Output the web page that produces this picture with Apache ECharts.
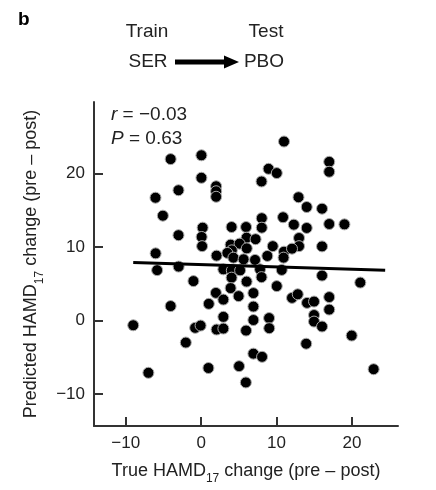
<!DOCTYPE html>
<html>
<head>
<meta charset="utf-8">
<script src="https://cdn.jsdelivr.net/npm/echarts@6/dist/echarts.min.js"></script>
<style>
html,body{margin:0;padding:0;background:#fff;}
#chart{width:436px;height:490px;}
</style>
</head>
<body>
<div id="chart"></div>
<script>
// True HAMD17 change (pre - post)
const trueChange = [
  -4.04, 0.04, 0.04, -6.05, -3.00, -5.07, -3.00, 0.20, 0.07, 0.13,
  -6.03, -5.83, -2.98, -1.02, -4.04, -9.00, -0.79, -0.07, -2.03, -6.99,
  0.97, 1.02, 1.99, 1.99, 1.99, 10.99, 8.94, 10.03, 8.01, 16.98,
  16.98, 12.91, 14.00, 16.03, 10.86, 8.04, 8.04, 12.29, 14.00, 16.98,
  19.00, 4.04, 5.96, 6.03, 7.22, 12.98, 12.98, 16.03, 3.91, 5.10,
  6.05, 4.07, 9.50, 10.99, 12.05, 2.05, 3.48, 4.28, 5.63, 7.15,
  8.78, 10.93, 2.95, 4.07, 5.17, 7.81, 8.01, 10.69, 4.04, 3.91,
  6.03, 10.03, 16.03, 21.10, 1.96, 2.95, 4.97, 6.93, 6.93, 12.05,
  12.81, 14.04, 14.97, 16.98, 16.98, 2.95, 6.93, 9.01, 14.97, 14.97,
  16.03, 2.05, 2.95, 5.96, 9.03, 19.96, 13.93, 6.93, 8.08, 5.03,
  22.87, 5.93
];
// Predicted HAMD17 change (pre - post)
const predictedChange = [
  21.94, 22.46, 19.40, 16.69, 17.71, 14.25, 11.60, 12.62, 11.36, 10.11,
  9.13, 6.85, 7.33, 5.36, 1.97, -0.64, -0.99, -0.68, -2.99, -7.10,
  -6.45, 2.27, 18.25, 17.57, 16.82, 24.33, 20.62, 20.04, 18.90, 21.57,
  20.22, 16.76, 15.43, 15.20, 14.04, 13.91, 12.62, 13.03, 12.58, 13.12,
  13.07, 12.71, 12.71, 11.26, 11.06, 11.22, 10.11, 10.08, 10.31, 10.45,
  9.81, 9.54, 10.11, 9.36, 9.77, 8.82, 9.19, 8.55, 8.32, 8.24,
  8.78, 8.55, 6.96, 6.82, 6.82, 6.96, 5.90, 6.88, 5.83, 4.41,
  5.29, 4.68, 6.11, 5.16, 3.76, 2.85, 3.32, 3.73, 1.90, 3.08,
  3.57, 2.40, 2.58, 3.19, 1.49, 0.50, 0.07, 0.34, 0.75, -0.14,
  -0.81, -1.22, -1.09, -1.36, -1.04, -2.04, -3.15, -4.50, -4.93, -6.20,
  -6.61, -8.41
];
// Fit line endpoints
const fitX = [-9.0, 24.4];
const fitY = [7.9, 6.85];
// Tick values
const xTicks = [-10, 0, 10, 20];
const yTicks = [-10, 0, 10, 20];
const statR = '−0.03';
const statP = '0.63';

const FONT = '"Liberation Sans", Arial, sans-serif';
const points = trueChange.map((x, i) => [x, predictedChange[i]]);
const fitLine = fitX.map((x, i) => [x, fitY[i]]);
const fmt = v => String(v).replace('-', '−');

const nameRich = {
  t: {fontFamily: FONT, fontSize: 18, color: '#222', lineHeight: 22, verticalAlign: 'bottom'},
  s: {fontFamily: FONT, fontSize: 12, color: '#222', lineHeight: 22, verticalAlign: 'bottom', padding: [0,0,-5,0]}
};

const chart = echarts.init(document.getElementById('chart'), null, {renderer: 'canvas'});
chart.setOption({
  animation: false,
  backgroundColor: '#fff',
  grid: {left: 94, right: 38, top: 102, bottom: 63},
  xAxis: {
    type: 'value', min: -14.2, max: 26.1,
    name: '{t|True HAMD}{s|17}{t| change (pre – post)}',
    nameLocation: 'middle', nameGap: 32,
    nameTextStyle: {rich: nameRich},
    splitLine: {show: false},
    axisLine: {show: true, onZero: false, lineStyle: {color: '#333', width: 2}},
    axisTick: {show: true, inside: true, length: 9, customValues: xTicks, lineStyle: {color: '#333', width: 2}},
    axisLabel: {customValues: xTicks, formatter: fmt, fontFamily: FONT, fontSize: 17, color: '#222', margin: 9}
  },
  yAxis: {
    type: 'value', min: -14.33, max: 29.7,
    name: '{t|Predicted HAMD}{s|17}{t| change (pre – post)}',
    nameLocation: 'middle', nameGap: 38, nameRotate: 90,
    nameTextStyle: {rich: nameRich},
    splitLine: {show: false},
    axisLine: {show: true, onZero: false, lineStyle: {color: '#333', width: 2}},
    axisTick: {show: true, inside: true, length: 9, customValues: yTicks, lineStyle: {color: '#333', width: 2}},
    axisLabel: {customValues: yTicks, formatter: fmt, fontFamily: FONT, fontSize: 17, color: '#222', margin: 9}
  },
  series: [
    {
      type: 'scatter', data: points, symbolSize: 11,
      itemStyle: {color: '#000', borderColor: '#aaa', borderWidth: 1, opacity: 1},
      z: 2
    },
    {
      type: 'line', data: fitLine, symbol: 'none',
      lineStyle: {color: '#000', width: 3}, z: 3
    }
  ],
  graphic: [
    {type: 'text', x: 18, y: 20, style: {text: 'b', font: 'bold 19px ' + FONT, fill: '#000', verticalAlign: 'middle'}},
    {type: 'text', x: 147, y: 32, style: {text: 'Train', font: '19px ' + FONT, fill: '#222', align: 'center', verticalAlign: 'middle'}},
    {type: 'text', x: 266, y: 32, style: {text: 'Test', font: '19px ' + FONT, fill: '#222', align: 'center', verticalAlign: 'middle'}},
    {type: 'text', x: 148, y: 62, style: {text: 'SER', font: '19px ' + FONT, fill: '#222', align: 'center', verticalAlign: 'middle'}},
    {type: 'text', x: 264, y: 62, style: {text: 'PBO', font: '19px ' + FONT, fill: '#222', align: 'center', verticalAlign: 'middle'}},
    {type: 'line', shape: {x1: 175, y1: 62, x2: 228, y2: 62}, style: {stroke: '#000', lineWidth: 5}},
    {type: 'polygon', shape: {points: [[224, 55.5], [239, 62], [224, 68.5]]}, style: {fill: '#000'}},
    {type: 'text', x: 111, y: 115, style: {
      text: '{i|r} = ' + statR,
      font: '19px ' + FONT, fill: '#222', verticalAlign: 'middle',
      rich: {i: {fontStyle: 'italic', fontFamily: FONT, fontSize: 19, fill: '#222'}}
    }},
    {type: 'text', x: 111, y: 139, style: {
      text: '{i|P} = ' + statP,
      font: '19px ' + FONT, fill: '#222', verticalAlign: 'middle',
      rich: {i: {fontStyle: 'italic', fontFamily: FONT, fontSize: 19, fill: '#222'}}
    }}
  ]
});
</script>
</body>
</html>
